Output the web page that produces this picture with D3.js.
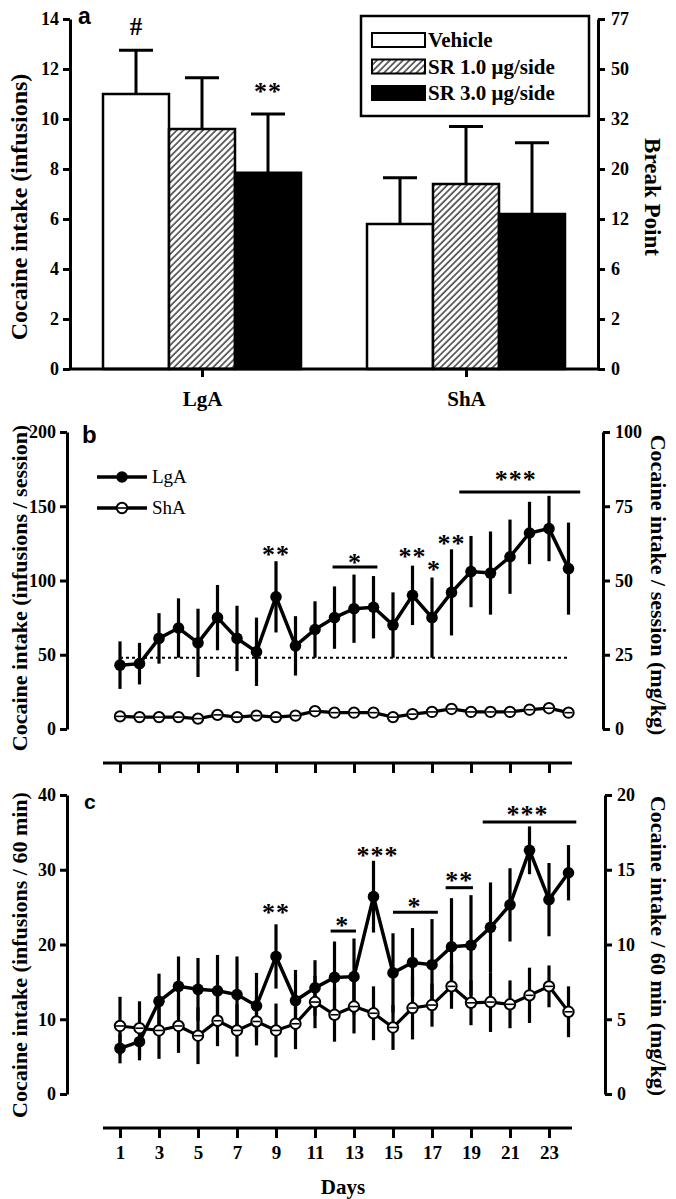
<!DOCTYPE html>
<html><head><meta charset="utf-8">
<script src="https://cdn.jsdelivr.net/npm/d3@7/dist/d3.min.js"></script>
<style>
body{margin:0;background:#fff}
svg{display:block}
text{font-family:"Liberation Serif","Times New Roman",serif;font-weight:bold;fill:#000}
</style>
</head><body>
<svg id="chart" width="676" height="1199"></svg>
<script>
// ---------- DATA ----------
// Panel a
const groupsA = ["LgA", "ShA"];
const seriesA = ["Vehicle", "SR 1.0 μg/side", "SR 3.0 μg/side"];
const meanLgA_a = [11.0, 9.6, 7.85];
const errLgA_a = [1.75, 2.05, 2.35];
const meanShA_a = [5.8, 7.4, 6.2];
const errShA_a = [1.85, 2.3, 2.85];
const ticksA = [0, 2, 4, 6, 8, 10, 12, 14];
const breakPointLabels = ["0", "2", "6", "12", "20", "32", "50", "77"];

// Panels b and c
const days = d3.range(1, 25);
const dayTicks = [1, 3, 5, 7, 9, 11, 13, 15, 17, 19, 21, 23];

const lgaB = [43, 44, 61, 68, 58, 75, 61, 52, 89, 56, 67, 75, 81, 82, 70, 90, 75, 92, 106, 105, 116, 132, 135, 108];
const lgaBErr = [16, 14, 17, 20, 23, 22, 22, 23, 24, 20, 19, 21, 23, 21, 22, 20, 27, 29, 24, 28, 25, 21, 22, 31];
const shaB = [8.5, 8, 8, 8, 7, 9.5, 8, 9, 8, 9, 12, 11, 11, 11, 8, 10, 11.5, 13.5, 11.5, 11.5, 11.5, 13, 14, 11];
const shaBErr = [3, 2.5, 3, 2.5, 3, 3, 2.5, 3, 2.5, 3, 3, 3, 3, 2.5, 3, 3, 2.5, 3, 3, 3, 3, 3, 3, 3];
const thresholdB = 48;
const ticksB = [0, 50, 100, 150, 200];
const ticksBRight = [0, 25, 50, 75, 100];

const lgaC = [6.1, 7.0, 12.4, 14.4, 14.0, 13.8, 13.3, 11.8, 18.4, 12.5, 14.2, 15.6, 15.7, 26.4, 16.2, 17.6, 17.3, 19.7, 19.9, 22.3, 25.3, 32.6, 26.0, 29.6];
const lgaCErr = [2, 2.5, 3.7, 4, 4.2, 4.8, 5.1, 4.4, 4.3, 4.1, 3.7, 4.8, 5.1, 4.8, 5.3, 4.6, 6.1, 6.5, 6.7, 6, 4.9, 3.2, 4.9, 3.7];
const shaC = [9.1, 8.8, 8.5, 9.1, 7.8, 9.8, 8.5, 9.7, 8.5, 9.4, 12.3, 10.6, 11.7, 10.8, 8.9, 11.5, 11.9, 14.4, 12.2, 12.3, 12.0, 13.2, 14.4, 11.0];
const shaCErr = [3.9, 3.6, 3.8, 3.6, 3.8, 3.4, 3.5, 3.2, 3.6, 3.4, 3.5, 3.6, 3.6, 3.6, 3.0, 4.2, 2.9, 3.0, 3.0, 4.0, 3.2, 3.7, 2.8, 3.4];
const ticksC = [0, 10, 20, 30, 40];
const ticksCRight = [0, 5, 10, 15, 20];

// significance annotations
const starsA = [["#", "LgA", 0, 13.35], ["**", "LgA", 2, 10.75]];
const starsB = [["**", 9, 111.8], ["*", 13.05, 106.4], ["**", 16, 110.4], ["*", 17.1, 101.7], ["**", 18, 119.2], ["***", 21.3, 162.3]];
const barsB = [[11.9, 14.2, 109.1], [18.4, 24.6, 159.6]];
const starsC = [["**", 9, 23.1], ["*", 12.4, 21.4], ["***", 14.2, 30.8], ["*", 16.1, 23.9], ["**", 18.4, 27.4], ["***", 21.9, 36.3]];
const barsC = [[11.8, 13.1, 21.8], [15.0, 17.3, 24.3], [17.7, 19.1, 27.6], [19.6, 24.4, 36.4]];

// ---------- DRAW ----------
const svg = d3.select("#chart");
const defs = svg.append("defs");
const pat = defs.append("pattern").attr("id", "hatch").attr("patternUnits", "userSpaceOnUse")
  .attr("width", 4.6).attr("height", 4.6).attr("patternTransform", "rotate(45)");
pat.append("rect").attr("width", 4.6).attr("height", 4.6).attr("fill", "#fff");
pat.append("line").attr("x1", 1).attr("y1", 0).attr("x2", 1).attr("y2", 4.6).attr("stroke", "#3a3a3a").attr("stroke-width", 1.5);

const fills = ["#fff", "url(#hatch)", "#000"];

function styleAxis(g, fs) {
  g.selectAll("path,line").attr("stroke", "#000").attr("stroke-width", 3);
  g.selectAll("text").style("font-family", '"Liberation Serif","Times New Roman",serif')
    .style("font-weight", "bold").style("font-size", fs + "px").attr("fill", "#000");
}
function rotLabel(txt, x, y, ang, fs) {
  svg.append("text").attr("transform", `translate(${x},${y}) rotate(${ang})`)
    .attr("text-anchor", "middle").attr("dominant-baseline", "central")
    .style("font-size", fs + "px").text(txt);
}
function panelLetter(t, x, y, fs) {
  svg.append("text").attr("x", x).attr("y", y)
    .style("font-family", '"Liberation Sans",Arial,sans-serif').style("font-size", fs + "px").text(t);
}

// ===== Panel a =====
const aL = 70, aR = 598;
const yA = d3.scaleLinear().domain([0, 14]).range([369, 19]);
const xA = d3.scalePoint().domain(groupsA).range([aL, aR]).padding(0.5);
const xSub = d3.scaleBand().domain(seriesA).range([-99, 99]).padding(0);
const dataA = {LgA: [meanLgA_a, errLgA_a], ShA: [meanShA_a, errShA_a]};

const gA = svg.append("g");
groupsA.forEach(g => {
  const [m, e] = dataA[g];
  seriesA.forEach((s, i) => {
    const x0 = xA(g) + xSub(s), w = xSub.bandwidth(), cx = x0 + w / 2;
    gA.append("line").attr("x1", cx).attr("x2", cx).attr("y1", yA(m[i])).attr("y2", yA(m[i] + e[i]))
      .attr("stroke", "#000").attr("stroke-width", 3);
    gA.append("line").attr("x1", cx - 17).attr("x2", cx + 17).attr("y1", yA(m[i] + e[i])).attr("y2", yA(m[i] + e[i]))
      .attr("stroke", "#000").attr("stroke-width", 3);
    gA.append("rect").attr("x", x0).attr("width", w).attr("y", yA(m[i])).attr("height", yA(0) - yA(m[i]))
      .attr("fill", fills[i]).attr("stroke", "#000").attr("stroke-width", 2.5);
  });
});
const axLA = svg.append("g").attr("transform", `translate(${aL},0)`)
  .call(d3.axisLeft(yA).tickValues(ticksA).tickSize(7).tickSizeOuter(0).tickPadding(4));
styleAxis(axLA, 18);
const axRA = svg.append("g").attr("transform", `translate(${aR},0)`)
  .call(d3.axisRight(yA).tickValues(ticksA).tickSize(7).tickSizeOuter(0).tickPadding(6)
    .tickFormat((d, i) => breakPointLabels[i]));
styleAxis(axRA, 18);
const axBA = svg.append("g").attr("transform", `translate(0,${yA(0)})`)
  .call(d3.axisBottom(xA).tickSize(8).tickSizeOuter(0).tickPadding(14));
styleAxis(axBA, 21);
axBA.select(".domain").attr("d", `M${aL},0H${aR}`);

starsA.forEach(([t, g, i, v]) => {
  const cx = xA(g) + xSub(seriesA[i]) + xSub.bandwidth() / 2;
  svg.append("text").attr("x", cx).attr("y", yA(v)).attr("text-anchor", "middle")
    .style("font-size", t === "#" ? "25px" : "26px").style("letter-spacing", t === "#" ? "0" : "1px").text(t);
});

// legend a
const lg = svg.append("g");
lg.append("rect").attr("x", 361).attr("y", 16).attr("width", 228).attr("height", 100)
  .attr("fill", "#fff").attr("stroke", "#000").attr("stroke-width", 2.5);
seriesA.forEach((s, i) => {
  const yy = 33 + i * 26.5;
  lg.append("rect").attr("x", 372).attr("y", yy).attr("width", 53).attr("height", 14)
    .attr("fill", fills[i]).attr("stroke", "#000").attr("stroke-width", 2);
  lg.append("text").attr("x", 428).attr("y", yy + 14).style("font-size", "21px").text(s);
});
panelLetter("a", 78, 24, 23);
rotLabel("Cocaine intake (infusions)", 19, 207, -90, 24);
rotLabel("Break Point", 652, 197, 90, 23);

// ===== Panels b and c (shared) =====
const xD = d3.scaleLinear().domain([1, 24]).range([120, 568.5]);

function linePanel(cfg) {
  const {top, bottom, maxL, maxR, ticksL, ticksR, lga, lgaE, sha, shaE, axisY, L, R, stars, sbars, showDayLabels} = cfg;
  const y = d3.scaleLinear().domain([0, maxL]).range([bottom, top]);
  const yR = d3.scaleLinear().domain([0, maxR]).range([bottom, top]);
  const g = svg.append("g");
  if (cfg.threshold !== undefined) {
    g.append("line").attr("x1", xD(1)).attr("x2", xD(24)).attr("y1", y(cfg.threshold)).attr("y2", y(cfg.threshold))
      .attr("stroke", "#000").attr("stroke-width", 2).attr("stroke-dasharray", "3,3");
  }
  const drawErr = (vals, errs) => {
    g.selectAll(null).data(days).enter().append("line")
      .attr("x1", d => xD(d)).attr("x2", d => xD(d))
      .attr("y1", (d, i) => y(vals[i] - errs[i])).attr("y2", (d, i) => y(vals[i] + errs[i]))
      .attr("stroke", "#000").attr("stroke-width", 3.2);
  };
  drawErr(sha, shaE);
  drawErr(lga, lgaE);
  const ln = vals => d3.line().x((d, i) => xD(days[i])).y(d => y(d))(vals);
  g.append("path").attr("d", ln(sha)).attr("fill", "none").attr("stroke", "#000").attr("stroke-width", 3.2);
  g.append("path").attr("d", ln(lga)).attr("fill", "none").attr("stroke", "#000").attr("stroke-width", 3.5);
  const sm = g.selectAll(null).data(days).enter().append("g")
    .attr("transform", (d, i) => `translate(${xD(d)},${y(sha[i])})`);
  sm.append("circle").attr("r", 5.2).attr("fill", "#fff").attr("stroke", "#000").attr("stroke-width", 2);
  sm.append("line").attr("x1", -4).attr("x2", 4).attr("stroke", "#000").attr("stroke-width", 1.6);
  g.selectAll(null).data(days).enter().append("circle")
    .attr("cx", d => xD(d)).attr("cy", (d, i) => y(lga[i])).attr("r", 5.8).attr("fill", "#000");
  const aLft = svg.append("g").attr("transform", `translate(${L},0)`)
    .call(d3.axisLeft(y).tickValues(ticksL).tickSize(7).tickSizeOuter(0).tickPadding(4));
  styleAxis(aLft, 18);
  const aRgt = svg.append("g").attr("transform", `translate(${R},0)`)
    .call(d3.axisRight(yR).tickValues(ticksR).tickSize(7).tickSizeOuter(0).tickPadding(5));
  styleAxis(aRgt, 18);
  const aB = svg.append("g").attr("transform", `translate(0,${axisY})`)
    .call(d3.axisBottom(xD).tickValues(dayTicks).tickSize(10).tickSizeOuter(0).tickPadding(8)
      .tickFormat(showDayLabels ? d3.format("d") : ""));
  styleAxis(aB, 19);
  aB.select(".domain").attr("d", `M${xD(1) - 17},0H${xD(24) + 3.5}`);
  sbars.forEach(([d0, d1, v]) => {
    g.append("line").attr("x1", xD(d0)).attr("x2", xD(d1)).attr("y1", y(v)).attr("y2", y(v))
      .attr("stroke", "#000").attr("stroke-width", 3);
  });
  stars.forEach(([t, d, v]) => {
    g.append("text").attr("x", xD(d)).attr("y", y(v)).attr("text-anchor", "middle")
      .style("font-size", "26px").style("letter-spacing", "1px").text(t);
  });
  return y;
}

// Panel b
linePanel({top: 432, bottom: 729, maxL: 200, maxR: 100, ticksL: ticksB, ticksR: ticksBRight,
  lga: lgaB, lgaE: lgaBErr, sha: shaB, shaE: shaBErr, axisY: 763, L: 67, R: 603,
  stars: starsB, sbars: barsB, threshold: thresholdB, showDayLabels: false});
panelLetter("b", 82, 443, 24);
rotLabel("Cocaine intake (infusions / session)", 19, 588, -90, 22);
rotLabel("Cocaine intake / session (mg/kg)", 658, 585, 90, 22);

const lgb = svg.append("g");
[["LgA", 477], ["ShA", 508]].forEach(([t, yy], i) => {
  lgb.append("line").attr("x1", 97).attr("x2", 147).attr("y1", yy).attr("y2", yy).attr("stroke", "#000").attr("stroke-width", 3.5);
  if (i === 0) lgb.append("circle").attr("cx", 122).attr("cy", yy).attr("r", 5.8).attr("fill", "#000");
  else {
    lgb.append("circle").attr("cx", 122).attr("cy", yy).attr("r", 5.2).attr("fill", "#fff").attr("stroke", "#000").attr("stroke-width", 2);
    lgb.append("line").attr("x1", 118).attr("x2", 126).attr("y1", yy).attr("y2", yy).attr("stroke", "#000").attr("stroke-width", 1.6);
  }
  lgb.append("text").attr("x", 152).attr("y", yy + 6).style("font-weight", "normal").style("font-size", "19px").text(t);
});

// Panel c
linePanel({top: 795, bottom: 1094, maxL: 40, maxR: 20, ticksL: ticksC, ticksR: ticksCRight,
  lga: lgaC, lgaE: lgaCErr, sha: shaC, shaE: shaCErr, axisY: 1128, L: 67, R: 605,
  stars: starsC, sbars: barsC, showDayLabels: true});
panelLetter("c", 84, 809, 21);
rotLabel("Cocaine intake (infusions / 60 min)", 19, 955, -90, 22);
rotLabel("Cocaine intake / 60 min (mg/kg)", 658, 946, 90, 22);
svg.append("text").attr("x", 343).attr("y", 1194).attr("text-anchor", "middle").style("font-size", "21px").text("Days");
</script>
</body></html>
